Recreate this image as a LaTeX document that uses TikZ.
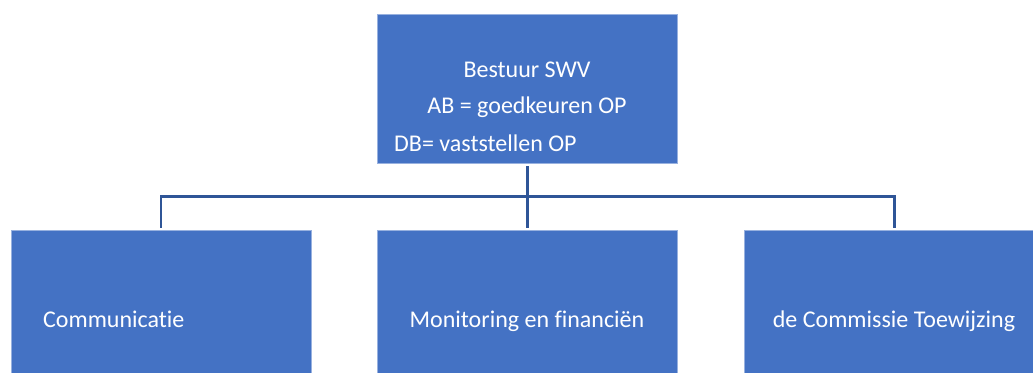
\documentclass[tikz,border=0pt]{standalone}
\usepackage{fontspec}
\setmainfont[Ligatures=NoCommon]{Carlito}
\definecolor{boxblue}{HTML}{4472C4}
\definecolor{lineblue}{HTML}{2F5597}
\begin{document}
\begin{tikzpicture}[x=1pt,y=-1pt,
  box/.style={fill=boxblue, draw=boxblue!55!white, line width=0.8pt, minimum width=300pt, inner sep=0pt, anchor=north west},
  lbl/.style={text=white, font=\fontsize{24}{28}\selectfont, inner sep=0pt},
  conn/.style={draw=lineblue, line width=2.6pt}]
\useasboundingbox (0,0) rectangle (1033,372);
\fill[white] (0,0) rectangle (1033,372);
\clip (0,0) rectangle (1033,372);
% boxes
\node[box, minimum height=149pt] (top) at (377,14) {};
\node[box, minimum height=200pt] (left) at (10.5,229.5) {};
\node[box, minimum height=200pt] (mid) at (377,229.5) {};
\node[box, minimum height=200pt] (right) at (744,229.5) {};
% connectors
\coordinate (bus) at (0,196.5);
\draw[conn] ([yshift=-2.5pt]top.south) -- ([yshift=2pt]mid.north);
\draw[conn] ([yshift=2pt]left.north) -- (left.north |- bus) -- (right.north |- bus) -- ([yshift=2pt]right.north);
% texts
\node[lbl, anchor=base] (t1) at (527,77) {Bestuur SWV};
\node[lbl, anchor=base] (t2) at (527,113) {AB = goedkeuren OP};
\node[lbl, anchor=base west] (t3) at (394,151) {DB= vaststellen OP};
\node[lbl, anchor=base west] (lt) at (43,327.5) {Communicatie};
\node[lbl, anchor=base] (mt) at (527,327.5) {Monitoring en financiën};
\node[lbl, anchor=base] (rt) at (894,327.5) {de Commissie Toewijzing};
\end{tikzpicture}
\end{document}
